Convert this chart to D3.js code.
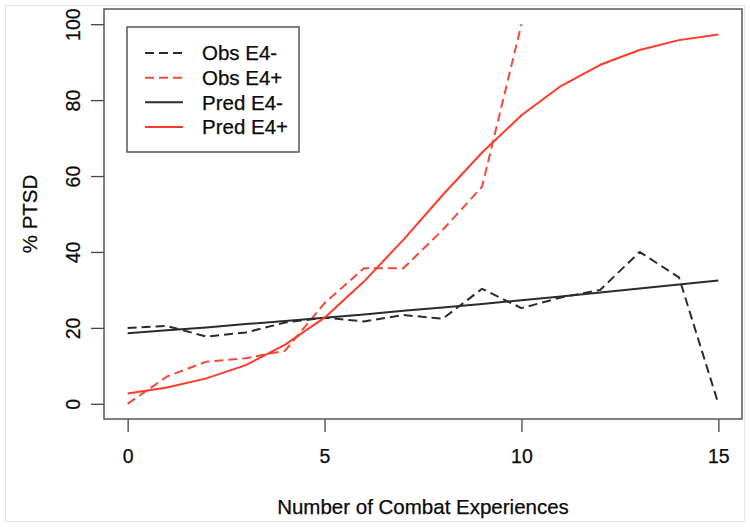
<!DOCTYPE html>
<html>
<head>
<meta charset="utf-8">
<script src="https://cdn.jsdelivr.net/npm/d3@7"></script>
<style>
  html, body { margin: 0; padding: 0; background: #fff; }
  svg { display: block; font-family: "Liberation Sans", Arial, Helvetica, sans-serif; }
</style>
</head>
<body>
<svg id="chart" width="750" height="527"></svg>
<script>
// ---- Data ----
const combat = [0, 1, 2, 3, 4, 5, 6, 7, 8, 9, 10, 11, 12, 13, 14, 15];
const obsE4neg = [20, 20.5, 17.7, 18.8, 21.4, 22.7, 21.7, 23.4, 22.4, 30.3, 25.2, 28, 30, 40, 33.3, 0];
const obsE4pos = [0, 7.2, 11.1, 12.0, 14.0, 26.5, 35.7, 35.7, 45.8, 57.2, 100];
const predE4neg = [18.6, 19.4, 20.1, 21.0, 21.8, 22.7, 23.5, 24.5, 25.4, 26.3, 27.3, 28.3, 29.3, 30.4, 31.4, 32.5];
const predE4pos = [2.7, 4.3, 6.7, 10.2, 15.6, 22.7, 32.2, 43.2, 55, 66.2, 76, 83.7, 89.3, 93.2, 95.8, 97.3];
const xTicks = [0, 5, 10, 15];
const yTicks = [0, 20, 40, 60, 80, 100];
const seriesNames = ["Obs E4-", "Obs E4+", "Pred E4-", "Pred E4+"];
const xTitle = "Number of Combat Experiences";
const yTitle = "% PTSD";

// ---- Layout ----
const plot = { left: 104, right: 742, top: 9, bottom: 419 };
const dark = "#2b2b2b";
const red = "#ff3a28";
const redDash = "#f3493a";
const textCol = "#0a0a0a";

const svg = d3.select("#chart");

// faint outer frame
svg.append("rect").attr("x", 5.5).attr("y", 5.5).attr("width", 739).attr("height", 516)
  .attr("fill", "none").attr("stroke", "#e4e4e4").attr("stroke-width", 1);

const x = d3.scaleLinear().domain([-0.6, 15.6]).range([plot.left, plot.right]);
const y = d3.scaleLinear().domain([-4, 104]).range([plot.bottom, plot.top]);

// axes
const xAxis = d3.axisBottom(x).tickValues(xTicks).tickSize(13).tickPadding(17).tickFormat(d3.format("d"));
const gx = svg.append("g").attr("transform", `translate(0,${plot.bottom})`).call(xAxis);
gx.select(".domain").remove();
gx.selectAll(".tick line").attr("stroke", "#444").attr("stroke-width", 1.3);
gx.selectAll(".tick text").attr("fill", textCol).style("font-size", "19.5px")
  .attr("stroke", textCol).attr("stroke-width", 0.25);

const yAxis = d3.axisLeft(y).tickValues(yTicks).tickSize(13).tickPadding(0).tickFormat(d3.format("d"));
const gy = svg.append("g").attr("transform", `translate(${plot.left},0)`).call(yAxis);
gy.select(".domain").remove();
gy.selectAll(".tick line").attr("stroke", "#444").attr("stroke-width", 1.3);
gy.selectAll(".tick text")
  .attr("fill", textCol).style("font-size", "19.5px")
  .attr("stroke", textCol).attr("stroke-width", 0.25)
  .attr("x", null).attr("dy", null)
  .attr("text-anchor", "middle")
  .attr("transform", "translate(-31,0) rotate(-90)")
  .attr("dy", "0.35em");

// plot frame
svg.append("rect")
  .attr("x", plot.left).attr("y", plot.top)
  .attr("width", plot.right - plot.left).attr("height", plot.bottom - plot.top)
  .attr("fill", "none").attr("stroke", "#555").attr("stroke-width", 1.5);

// titles
svg.append("text").attr("x", (plot.left + plot.right) / 2).attr("y", 514)
  .attr("text-anchor", "middle").attr("fill", textCol).attr("stroke", textCol).attr("stroke-width", 0.25)
  .style("font-size", "20.5px").text(xTitle);
svg.append("text").attr("transform", `translate(37,${(plot.top + plot.bottom) / 2}) rotate(-90)`)
  .attr("text-anchor", "middle").attr("fill", textCol).attr("stroke", textCol).attr("stroke-width", 0.25)
  .style("font-size", "20.5px").text(yTitle);

// lines
const line = d3.line().x((d, i) => x(combat[i])).y(d => y(d));
const series = [
  { data: obsE4neg, color: dark, dash: "9,5", width: 2 },
  { data: obsE4pos, color: redDash, dash: "9,5", width: 2 },
  { data: predE4neg, color: dark, dash: null, width: 2 },
  { data: predE4pos, color: red, dash: null, width: 2 }
];
const gLines = svg.append("g");
series.forEach(s => {
  gLines.append("path").datum(s.data).attr("d", line)
    .attr("fill", "none").attr("stroke", s.color).attr("stroke-width", s.width)
    .attr("stroke-dasharray", s.dash).attr("stroke-linejoin", "round");
});

// legend
const lg = svg.append("g");
lg.append("rect").attr("x", 127).attr("y", 27).attr("width", 172).attr("height", 125)
  .attr("fill", "#fff").attr("stroke", "#555").attr("stroke-width", 1.5);
const rowY = d3.scalePoint().domain(seriesNames).range([53, 127]);
seriesNames.forEach((name, i) => {
  const s = series[i];
  lg.append("line").attr("x1", 145).attr("x2", 183).attr("y1", rowY(name)).attr("y2", rowY(name))
    .attr("stroke", s.color).attr("stroke-width", 2).attr("stroke-dasharray", s.dash);
  lg.append("text").attr("x", 202).attr("y", rowY(name)).attr("dy", "0.35em")
    .attr("fill", textCol).attr("stroke", textCol).attr("stroke-width", 0.25)
    .style("font-size", "20.5px").text(name);
});
</script>
</body>
</html>
